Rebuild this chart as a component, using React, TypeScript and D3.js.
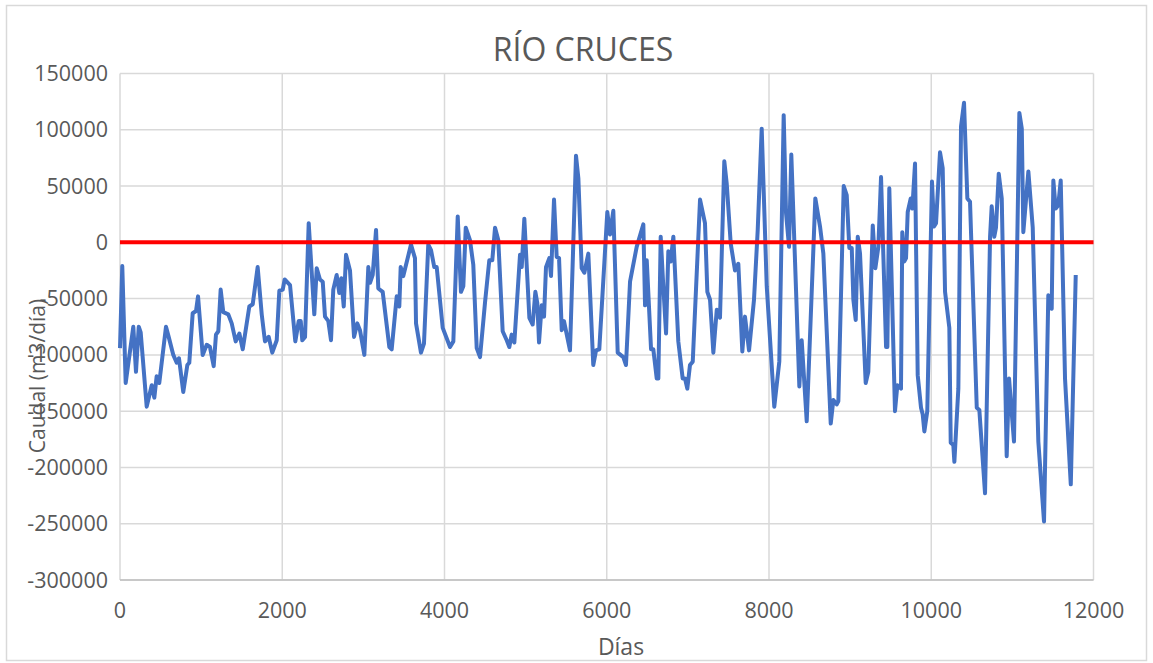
import React from "react";
import * as d3 from "d3";

const days: number[] = [
  0, 28, 70, 164, 197, 231, 255, 329, 391, 423, 452, 484, 567, 600, 657, 699, 727, 780, 830, 854,
  896, 937, 962, 1019, 1069, 1109, 1155, 1183, 1212, 1241, 1273, 1335, 1377, 1426, 1471, 1513, 1594, 1636, 1697, 1747,
  1787, 1833, 1877, 1932, 1964, 2006, 2030, 2096, 2161, 2203, 2228, 2247, 2281, 2326, 2395, 2425, 2465, 2499, 2527, 2568,
  2601, 2629, 2671, 2703, 2728, 2758, 2786, 2835, 2885, 2925, 2958, 3012, 3061, 3082, 3115, 3156, 3184, 3238, 3320, 3349,
  3411, 3443, 3460, 3492, 3587, 3636, 3649, 3710, 3747, 3800, 3834, 3874, 3904, 3978, 4068, 4109, 4163, 4203, 4232, 4262,
  4314, 4355, 4397, 4438, 4500, 4552, 4589, 4623, 4663, 4717, 4767, 4799, 4828, 4861, 4931, 4952, 4984, 5046, 5087, 5120,
  5144, 5165, 5198, 5227, 5251, 5292, 5313, 5350, 5383, 5412, 5445, 5473, 5547, 5621, 5650, 5691, 5724, 5773, 5834, 5868,
  5908, 6007, 6040, 6081, 6135, 6204, 6237, 6287, 6369, 6451, 6472, 6493, 6546, 6574, 6616, 6636, 6665, 6697, 6731, 6759,
  6788, 6821, 6882, 6936, 6965, 6993, 7026, 7060, 7150, 7211, 7240, 7273, 7314, 7356, 7396, 7449, 7479, 7528, 7581, 7622,
  7671, 7704, 7754, 7815, 7861, 7910, 7972, 8065, 8127, 8181, 8210, 8247, 8275, 8333, 8374, 8403, 8465, 8571, 8629, 8670,
  8761, 8793, 8835, 8855, 8921, 8958, 8990, 9020, 9040, 9069, 9094, 9122, 9192, 9224, 9279, 9311, 9348, 9381, 9443, 9459,
  9483, 9553, 9582, 9627, 9643, 9668, 9689, 9710, 9747, 9767, 9800, 9833, 9874, 9895, 9915, 9951, 10009, 10034, 10059, 10108,
  10141, 10170, 10223, 10240, 10272, 10285, 10334, 10367, 10404, 10445, 10478, 10561, 10593, 10663, 10725, 10745, 10777, 10798, 10832, 10869,
  10930, 10959, 11020, 11086, 11116, 11135, 11197, 11251, 11320, 11390, 11443, 11485, 11505, 11534, 11566, 11596, 11649, 11720, 11781,
];

const caudal: number[] = [
  -94000, -21000, -125000, -75000, -115000, -75000, -80000, -146000, -127000, -138000, -119000, -125000, -75000, -84000, -100000, -107000, -103000, -133000, -109000, -107000,
  -63000, -61000, -48000, -100000, -91000, -93000, -110000, -82000, -79000, -42000, -62000, -64000, -72000, -88000, -81000, -95000, -57000, -55000, -22000, -64000,
  -88000, -84000, -98000, -87000, -43000, -42000, -33000, -38000, -88000, -70000, -70000, -87000, -84000, 17000, -64000, -23000, -33000, -35000, -66000, -70000,
  -87000, -42000, -29000, -45000, -32000, -57000, -11000, -25000, -84000, -72000, -78000, -100000, -22000, -36000, -29000, 11000, -41000, -44000, -93000, -95000,
  -48000, -57000, -22000, -30000, -2000, -14000, -72000, -98000, -90000, -2000, -7000, -22000, -22000, -76000, -93000, -88000, 23000, -44000, -39000, 13000,
  2000, -20000, -94000, -102000, -53000, -16000, -16000, 13000, 2000, -79000, -87000, -93000, -82000, -89000, -11000, -22000, 21000, -67000, -73000, -44000,
  -54000, -89000, -56000, -66000, -22000, -14000, -30000, 38000, -13000, -14000, -78000, -70000, -96000, 77000, 57000, -23000, -27000, -10000, -109000, -96000,
  -95000, 27000, 7000, 28000, -98000, -102000, -109000, -35000, -4000, 16000, -56000, -16000, -95000, -95000, -121000, -121000, 5000, -39000, -81000, -8000,
  -17000, 5000, -88000, -121000, -121000, -130000, -109000, -106000, 38000, 17000, -44000, -51000, -98000, -60000, -67000, 72000, 52000, -1000, -25000, -19000,
  -97000, -66000, -96000, -51000, 11000, 101000, -39000, -146000, -106000, 113000, 26000, -4000, 78000, -42000, -128000, -87000, -159000, 39000, 14000, -10000,
  -161000, -140000, -144000, -141000, 50000, 42000, -5000, -5000, -51000, -69000, 5000, -10000, -125000, -115000, 15000, -23000, -4000, 58000, -93000, -93000,
  48000, -150000, -127000, -130000, 9000, -17000, -14000, 27000, 39000, 30000, 70000, -118000, -147000, -153000, -168000, -150000, 54000, 14000, 17000, 80000,
  66000, -44000, -76000, -178000, -180000, -195000, -130000, 103000, 124000, 39000, 36000, -147000, -149000, -223000, 5000, 32000, 5000, 13000, 61000, 39000,
  -190000, -121000, -177000, 115000, 101000, 9000, 63000, 13000, -177000, -248000, -47000, -59000, 55000, 30000, 33000, 55000, -121000, -215000, -29000,
];

const xTicks: number[] = [0, 2000, 4000, 6000, 8000, 10000, 12000];
const yTicks: number[] = [150000, 100000, 50000, 0, -50000, -100000, -150000, -200000, -250000, -300000];

const W = 1153;
const H = 663;
const left = 120;
const right = 1093.5;
const top = 73.5;
const bottom = 580;
const font = "'Open Sans', 'Noto Sans', sans-serif";
const textColor = "#595959";
const gridColor = "#d9d9d9";

export default function App() {
  const x = d3.scaleLinear().domain([0, 12000]).range([left, right]);
  const y = d3.scaleLinear().domain([-300000, 150000]).range([bottom, top]);
  const pts: [number, number][] = days.map((d, i) => [d, caudal[i]]);
  const line = d3
    .line<[number, number]>()
    .x((d) => x(d[0]))
    .y((d) => y(d[1]));

  return (
    <svg
      width={W}
      height={H}
      style={{ position: "absolute", left: 0, top: 0, background: "#fff" }}
    >
      <rect x={6.5} y={5.5} width={1140} height={655} fill="#fff" stroke={gridColor} strokeWidth={1.5} />
      {yTicks.map((t) => (
        <line key={"gy" + t} x1={left} x2={right} y1={y(t)} y2={y(t)} stroke={gridColor} strokeWidth={1.5} />
      ))}
      {xTicks.map((t) => (
        <line key={"gx" + t} x1={x(t)} x2={x(t)} y1={top} y2={bottom} stroke={gridColor} strokeWidth={1.5} />
      ))}
      <line x1={left} x2={right} y1={bottom} y2={bottom} stroke="#bfbfbf" strokeWidth={1.5} />
      {yTicks.map((t) => (
        <text
          key={"ly" + t}
          x={108}
          y={y(t)}
          dy="0.35em"
          textAnchor="end"
          fontFamily={font}
          fontSize={21.5}
          fill={textColor}
        >
          {t}
        </text>
      ))}
      {xTicks.map((t) => (
        <text
          key={"lx" + t}
          x={x(t)}
          y={610}
          dy="0.35em"
          textAnchor="middle"
          fontFamily={font}
          fontSize={21.5}
          fill={textColor}
        >
          {t}
        </text>
      ))}
      <path d={line(pts) || ""} fill="none" stroke="#4472C4" strokeWidth={4} strokeLinejoin="round" />
      <line x1={left} x2={right} y1={y(0)} y2={y(0)} stroke="#FF0000" strokeWidth={4} />
      <text x={583} y={50} dy="0.35em" textAnchor="middle" fontFamily={font} fontSize={32} fill={textColor}>
        RÍO CRUCES
      </text>
      <text x={621} y={647} dy="0.35em" textAnchor="middle" fontFamily={font} fontSize={23} fill={textColor}>
        Días
      </text>
      <text
        transform={`translate(38, 376) rotate(-90)`}
        dy="0.35em"
        textAnchor="middle"
        fontFamily={font}
        fontSize={21}
        fill={textColor}
      >
        Caudal (m3/día)
      </text>
    </svg>
  );
}
